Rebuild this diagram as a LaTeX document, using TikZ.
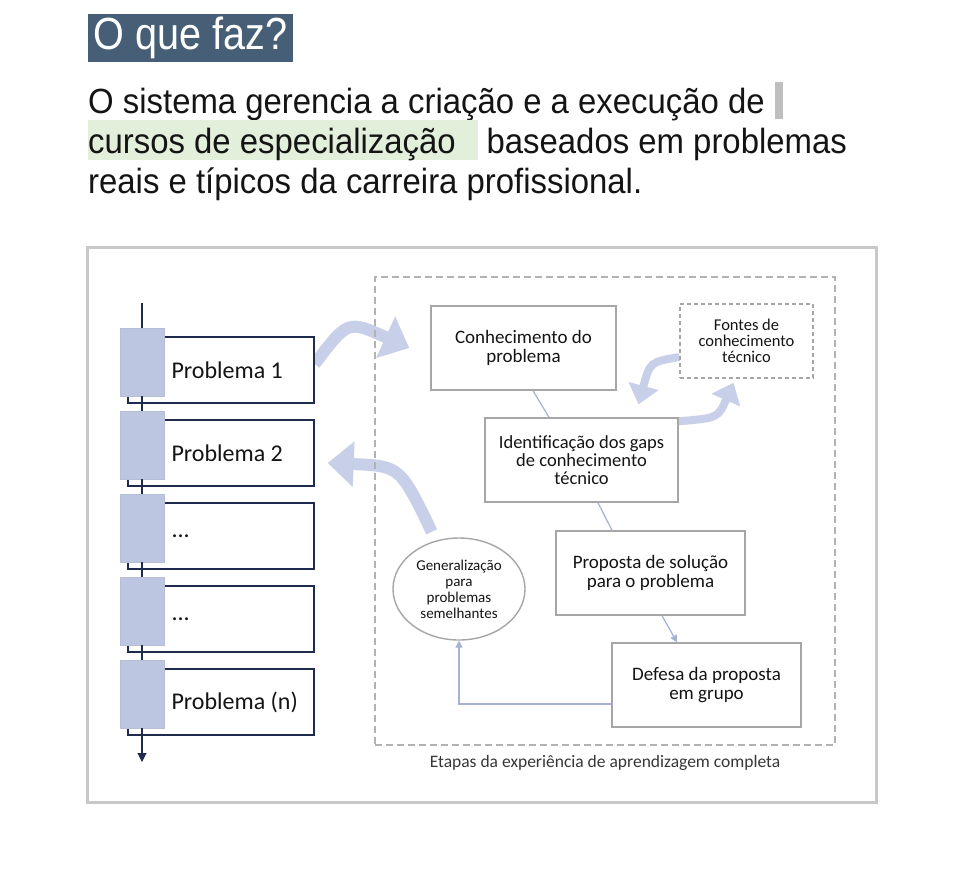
\documentclass[tikz,border=0pt]{standalone}
\usepackage{fontspec}
\setmainfont{Carlito}
\newfontfamily\headfont[FakeStretch=0.88]{Liberation Sans}
\newfontfamily\bodyfont[FakeStretch=0.94]{Liberation Sans}
\usetikzlibrary{shapes.geometric,arrows.meta,positioning,calc,backgrounds}
\definecolor{titlebg}{RGB}{71,95,118}
\definecolor{hilite}{RGB}{226,239,218}
\definecolor{cursorgrey}{RGB}{191,191,191}
\definecolor{framegrey}{RGB}{200,200,200}
\definecolor{dashgrey}{RGB}{178,178,178}
\definecolor{boxgrey}{RGB}{166,166,166}
\definecolor{navy}{RGB}{31,43,77}
\definecolor{tabblue}{RGB}{189,198,224}
\definecolor{fatblue}{RGB}{200,207,232}
\definecolor{thinblue}{RGB}{165,178,214}
\definecolor{textblack}{RGB}{20,20,20}
\newcommand{\etc}{...}

\begin{document}
\begin{tikzpicture}[
    x=1pt, y=-1pt,
    every node/.style={inner sep=0pt},
    titlebox/.style={fill=titlebg, text=white, font=\headfont\fontsize{45}{54}\selectfont, minimum width=205pt, minimum height=48pt},
    bodytext/.style={font=\bodyfont\fontsize{35}{40}\selectfont, text=textblack},
    probbox/.style={draw=navy, line width=1.3pt, fill=white, minimum width=186pt, minimum height=66pt},
    tab/.style={fill=tabblue, draw=tabblue!90!gray, line width=0.4pt, minimum width=44pt, minimum height=68pt},
    problabel/.style={font=\fontsize{24}{28}\selectfont, text=textblack},
    chain/.style={draw=navy, line width=1.1pt},
    stepbox/.style={draw=boxgrey, line width=1.4pt, fill=white, align=center, text=textblack, font=\fontsize{19}{19.5}\selectfont},
    link/.style={draw=thinblue, line width=1.2pt},
    fatarrow/.style={draw=fatblue, line width=12pt, -{Triangle[length=26pt,width=44pt]}},
    smallfat/.style={draw=fatblue, line width=8pt, -{Triangle[length=19pt,width=30pt]}},
]
\useasboundingbox (0,0) rectangle (964,892);

% Title
\node[titlebox] (title) at (190.5,38) {O que faz?};

% Text lines
\node[bodytext, anchor=base west] (line1) at (88,113) {O sistema gerencia a criação e a execução de};
\node[fill=cursorgrey, minimum width=8pt, minimum height=37pt] (cursor) at (779,100) {};
\node[bodytext, fill=hilite, anchor=base west, text height=33pt, text depth=7pt] (line2a) at (88,153) {\makebox[390pt][l]{cursos de especialização}};
\node[bodytext, anchor=base west, xshift=8pt] (line2b) at (line2a.base east) {baseados em problemas};
\node[bodytext, anchor=base west] (line3) at (88,193) {reais e típicos da carreira profissional.};

% Problem list
\foreach \i/\txt in {1/Problema 1,2/Problema 2,3/\etc,4/\etc,5/Problema (n)} {
    \node[probbox] (prob\i) at (221,{370+83*(\i-1)}) {};
    \node[tab] (tab\i) at (142,{362+83*(\i-1)}) {};
    \node[problabel, anchor=west] (lbl\i) at ([xshift=44pt]prob\i.west) {\txt};
}
\coordinate (listtop) at (142,303);
\coordinate (listend) at (142,762);
\draw[chain] (listtop) -- (tab1.north);
\foreach \i [evaluate=\i as \j using int(\i+1)] in {1,2,3,4}
    \draw[chain] (tab\i.south) -- (tab\j.north);
\draw[chain, -{Triangle[length=9pt,width=9pt]}] (tab5.south) -- (listend);

% Learning steps
\node[draw=dashgrey, line width=1.5pt, dash pattern=on 7pt off 4pt, minimum width=460pt, minimum height=468pt] (etapas) at (605,511) {};
\node[font=\fontsize{17.5}{20}\selectfont, text=textblack!85, below=9pt of etapas] (legenda) {Etapas da experiência de aprendizagem completa};

\node[stepbox, minimum width=185pt, minimum height=84pt] (conh) at (523.5,348) {Conhecimento do\\problema};
\node[stepbox, dashed, dash pattern=on 4pt off 3pt, minimum width=133pt, minimum height=74pt, font=\fontsize{16.5}{16}\selectfont] (fontes) at (746.5,341) {Fontes de\\conhecimento\\técnico};
\node[stepbox, minimum width=193pt, minimum height=84pt, font=\fontsize{18.5}{18}\selectfont] (ident) at (581.5,460) {Identificação dos gaps\\de conhecimento\\técnico};
\node[stepbox, minimum width=189pt, minimum height=84pt] (prop) at (650.5,573) {Proposta de solução\\para o problema};
\node[stepbox, minimum width=189pt, minimum height=84pt] (defesa) at (706.5,685) {Defesa da proposta\\em grupo};
\node[stepbox, ellipse, minimum width=132pt, minimum height=102pt, font=\fontsize{15}{16}\selectfont] (gen) at (459,589) {Generalização\\para\\problemas\\semelhantes};

% Thin links
\draw[link] ([xshift=9.5pt]conh.south) -- ([xshift=-32.5pt]ident.north);
\draw[link] ([xshift=16.5pt]ident.south) -- ([xshift=-38.5pt]prop.north);
\draw[link, -{Triangle[length=7pt,width=7pt]}] ([xshift=11.5pt]prop.south) -- ([xshift=-29.5pt]defesa.north);
\draw[link, -{Triangle[length=7pt,width=7pt]}] ([yshift=-19pt]defesa.west) -| (gen.south);

% Frame and curved arrows
\begin{scope}[on background layer]
    \fill[white] (0,0) rectangle (964,892);
    \draw[framegrey, line width=3pt] (87,247) rectangle (876,802);
    \draw[fatarrow] ([yshift=6pt]prob1.east) .. controls (348,320) .. ([xshift=-21pt]conh.west);
    \draw[fatarrow] ([yshift=10pt]gen.120) .. controls (400,466) .. ([xshift=13pt,yshift=-10pt]prob2.east);
    \draw[smallfat] ([yshift=-16pt]fontes.west) .. controls (650,362) .. ([xshift=57pt,yshift=13pt]ident.north);
    \draw[smallfat] ([yshift=-4pt]ident.north east) .. controls (718,418) .. ([xshift=-13pt,yshift=-4pt]fontes.south);
\end{scope}

\end{tikzpicture}
\end{document}
